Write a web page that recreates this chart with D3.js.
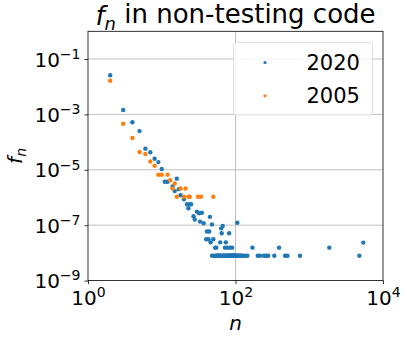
<!DOCTYPE html>
<html>
<head>
<meta charset="utf-8">
<script src="https://cdn.jsdelivr.net/npm/d3@7"></script>
<style>
  body { margin: 0; background: #fff; }
  text { font-family: "DejaVu Sans", sans-serif; fill: #000; }
</style>
</head>
<body>
<div id="chart"></div>
<script>
var svgWidth = 407;
var svgHeight = 339;

var margin = { top: 31.3, right: 24, bottom: 58.4, left: 88 };
var width = svgWidth - margin.left - margin.right;
var height = svgHeight - margin.top - margin.bottom;

// 2020 series: n and f_n (points above the single-count floor)
var n2020 = [2, 3, 4, 5, 6, 7, 8, 9, 10, 11, 12, 14, 15, 16, 17, 18, 20, 22, 23, 24, 25,
  27, 28, 30, 32, 33, 35, 37, 40, 41, 43, 44, 45, 46, 48, 50, 53, 55, 62, 64, 65, 67, 72,
  74, 77, 82, 84, 90, 106, 170, 390, 1870, 5400];
var f2020 = [2.6e-2, 1.45e-3, 5.2e-4, 2.5e-4, 5.8e-5, 4.3e-5, 2.5e-5, 1.9e-5, 1.07e-5, 3.7e-6,
  3.7e-6, 2.5e-6, 1.7e-6, 4.8e-6, 2.0e-6, 1.2e-6, 8.7e-7, 5.7e-7, 4.1e-7, 5.7e-7, 5.7e-7,
  2.1e-7, 1.6e-7, 3.1e-7, 2.7e-7, 1.35e-7, 2.8e-7, 1.17e-7, 3.1e-8, 5.9e-8, 3.1e-8, 5.9e-8,
  2.0e-7, 2.4e-8, 1.07e-7, 3.1e-8, 1.55e-8, 1.55e-8, 2.4e-8, 7.7e-8, 5.1e-8, 9.3e-8, 1.55e-8,
  2.4e-8, 1.55e-8, 5.1e-8, 1.55e-8, 1.55e-8, 1.23e-7, 1.55e-8, 1.55e-8, 1.55e-8, 2.35e-8];

// 2020 series: points on the single-count floor
var n2020Floor = [48, 51, 54, 56, 57, 58, 59, 60, 61, 63,
  66, 68, 69, 70, 71, 73, 75, 76, 78, 79,
  80, 81, 83, 85, 86, 87, 88, 89, 91, 92,
  93, 94, 95, 96, 97, 98, 99, 100, 102, 104,
  108, 110, 112, 115, 118, 121, 126, 135, 145, 200,
  215, 243, 259, 278, 336, 470, 507, 750, 4780];
var f2020Floor = [7.9e-9, 7.9e-9, 7.9e-9, 7.9e-9, 7.9e-9, 7.9e-9, 7.9e-9, 7.9e-9, 7.9e-9, 7.9e-9,
  7.9e-9, 7.9e-9, 7.9e-9, 7.9e-9, 7.9e-9, 7.9e-9, 7.9e-9, 7.9e-9, 7.9e-9, 7.9e-9,
  7.9e-9, 7.9e-9, 7.9e-9, 7.9e-9, 7.9e-9, 7.9e-9, 7.9e-9, 7.9e-9, 7.9e-9, 7.9e-9,
  7.9e-9, 7.9e-9, 7.9e-9, 7.9e-9, 7.9e-9, 7.9e-9, 7.9e-9, 7.9e-9, 7.9e-9, 7.9e-9,
  7.9e-9, 7.9e-9, 7.9e-9, 7.9e-9, 7.9e-9, 7.9e-9, 7.9e-9, 7.9e-9, 7.9e-9, 7.9e-9,
  7.9e-9, 7.9e-9, 7.9e-9, 7.9e-9, 7.9e-9, 7.9e-9, 7.9e-9, 7.9e-9, 7.9e-9];

// 2005 series
var n2005 = [2, 3, 4, 5, 6, 7, 8, 9, 10, 12, 13, 14, 15, 16, 18, 20, 21, 23, 24, 31, 34, 50];
var f2005 = [1.65e-2, 4.6e-4, 1.4e-4, 4.4e-5, 3.7e-5, 2.0e-5, 1.4e-5, 6.6e-6, 6.6e-6, 6.6e-6,
  4.2e-6, 2.1e-6, 3.2e-6, 1.07e-6, 2.1e-6, 1.07e-6, 2.1e-6, 1.07e-6, 1.07e-6, 1.07e-6,
  1.07e-6, 1.07e-6];

var xTicks = [1, 1e2, 1e4];
var yTicks = [1e-9, 1e-7, 1e-5, 1e-3, 1e-1];
var seriesNames = ["2020", "2005"];
var colors = ["#1f77b4", "#ff7f0e"];

var svg = d3.select("#chart")
  .append("svg")
  .attr("width", svgWidth)
  .attr("height", svgHeight);

var chartGroup = svg.append("g")
  .attr("transform", `translate(${margin.left}, ${margin.top})`);

var xScale = d3.scaleLog().domain([1, 1e4]).range([0, width]);
var yScale = d3.scaleLog().domain([1e-9, 1]).range([height, 0]);

// grid
chartGroup.append("g")
  .selectAll("line")
  .data(xTicks.slice(1, -1))
  .enter().append("line")
  .attr("x1", d => xScale(d)).attr("x2", d => xScale(d))
  .attr("y1", 0).attr("y2", height)
  .attr("stroke", "#b0b0b0").attr("stroke-width", 0.8);

chartGroup.append("g")
  .selectAll("line")
  .data(yTicks.slice(1))
  .enter().append("line")
  .attr("y1", d => yScale(d)).attr("y2", d => yScale(d))
  .attr("x1", 0).attr("x2", width)
  .attr("stroke", "#b0b0b0").attr("stroke-width", 0.8);

// superscript tick labels like 10^-3
function powLabel(sel, d) {
  var e = Math.round(Math.log10(d));
  sel.text(null);
  sel.append("tspan").text("10");
  sel.append("tspan")
    .attr("dy", "-0.55em")
    .attr("font-size", "14px")
    .text(e < 0 ? "\u2212" + (-e) : e);
}

var bottomAxis = d3.axisBottom(xScale).tickValues(xTicks).tickSize(3.5).tickPadding(4);
var leftAxis = d3.axisLeft(yScale).tickValues(yTicks).tickSize(3.5).tickPadding(4);

var xAxis = chartGroup.append("g")
  .attr("transform", `translate(0, ${height})`)
  .call(bottomAxis);
xAxis.selectAll("text")
  .attr("font-size", "20px")
  .attr("dy", "0.85em")
  .each(function (d) { powLabel(d3.select(this), d); });

var yAxis = chartGroup.append("g").call(leftAxis);
yAxis.selectAll("text")
  .attr("font-size", "20px")
  .attr("dy", "0.35em")
  .each(function (d) { powLabel(d3.select(this), d); });

[xAxis, yAxis].forEach(function (a) {
  a.select(".domain").remove();
  a.selectAll(".tick line").attr("stroke", "#000").attr("stroke-width", 0.8);
  a.selectAll("text").attr("font-family", "DejaVu Sans").attr("fill", "#000");
});

// frame
chartGroup.append("rect")
  .attr("width", width).attr("height", height)
  .attr("fill", "none").attr("stroke", "#000").attr("stroke-width", 0.8);

// points
var series = [
  { name: seriesNames[0], n: n2020.concat(n2020Floor), f: f2020.concat(f2020Floor), color: colors[0] },
  { name: seriesNames[1], n: n2005, f: f2005, color: colors[1] }
];
series.forEach(function (s) {
  chartGroup.append("g")
    .selectAll("circle")
    .data(s.n.map((n, i) => [n, s.f[i]]))
    .enter().append("circle")
    .attr("cx", d => xScale(d[0]))
    .attr("cy", d => yScale(d[1]))
    .attr("r", 2.2)
    .attr("fill", s.color);
});

// legend
var legend = chartGroup.append("g")
  .attr("transform", `translate(${233.5 - margin.left}, ${42.5 - margin.top})`);
legend.append("rect")
  .attr("width", 139).attr("height", 72.5)
  .attr("rx", 3)
  .attr("fill", "#fff").attr("fill-opacity", 0.8)
  .attr("stroke", "#d9d9d9").attr("stroke-width", 0.8);
series.forEach(function (s, i) {
  legend.append("circle")
    .attr("cx", 31.5).attr("cy", 20 + i * 33.3)
    .attr("r", 1.6).attr("fill", s.color);
  legend.append("text")
    .attr("x", 73).attr("y", 20 + i * 33.3)
    .attr("dy", "0.36em")
    .attr("font-size", "21px")
    .text(s.name);
});

// title
var title = svg.append("text")
  .attr("x", margin.left + width / 2)
  .attr("y", 25)
  .attr("text-anchor", "middle")
  .attr("font-size", "26px");
title.append("tspan").attr("font-style", "italic").text("f");
title.append("tspan").attr("font-style", "italic").attr("font-size", "18px").attr("dy", "0.25em").text("n");
title.append("tspan").attr("dy", "-0.25em").text(" in non-testing code");

// axis labels
svg.append("text")
  .attr("x", margin.left + width / 2)
  .attr("y", 330)
  .attr("text-anchor", "middle")
  .attr("font-size", "20px")
  .attr("font-style", "italic")
  .text("n");

var ylab = svg.append("text")
  .attr("transform", `translate(22, ${margin.top + height / 2}) rotate(-90)`)
  .attr("text-anchor", "middle")
  .attr("font-size", "20px")
  .attr("font-style", "italic");
ylab.append("tspan").text("f");
ylab.append("tspan").attr("font-size", "14px").attr("dy", "0.3em").text("n");
</script>
</body>
</html>
